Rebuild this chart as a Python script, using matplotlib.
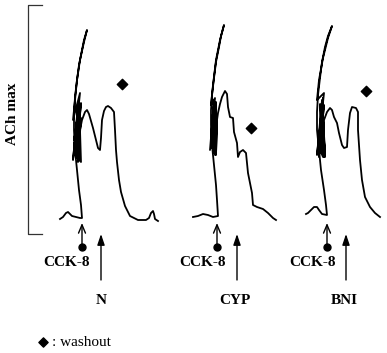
import matplotlib
matplotlib.use("Agg")
import matplotlib.pyplot as plt

# chart units: x = time (left to right), y = pen position (down is larger)
trace_n_x = [60, 63, 66, 68, 70, 72, 76, 80, 82,
             81, 79, 77, 75, 74, 74, 75, 77, 79, 82, 84, 87,
             84, 80, 77, 75, 73,
             80, 74, 79, 73, 78, 75, 80, 76, 81, 77, 79, 74, 80, 75, 78, 76,
             79, 77, 81, 78, 80, 79, 81, 80,
             82, 85, 87, 89, 93, 96, 98, 100, 101, 102, 104, 106, 108, 111, 114,
             115, 116, 117, 119, 121, 125, 130, 138, 146, 149, 151, 153, 154, 155, 158]
trace_n_y = [219, 217, 213, 212, 214, 216, 217, 218, 218,
             205, 190, 170, 150, 130, 115, 97, 80, 65, 50, 40, 30,
             42, 60, 80, 100, 120,
             93, 150, 100, 160, 105, 145, 110, 158, 103, 150, 115, 140, 108, 155, 120, 148,
             112, 152, 118, 162, 125, 160, 162, 130,
             120, 112, 110, 114, 128, 140, 148, 150, 138, 120, 111, 107, 106, 108, 112,
             130, 150, 162, 180, 192, 206, 216, 220, 220, 218, 213, 211, 214, 219, 221]

trace_cyp_x = [193, 198, 203, 208, 213, 218,
               217, 216, 214, 212, 211, 211, 212, 214, 216, 219, 221, 224,
               220, 216, 213, 211,
               215, 211, 214, 210, 216, 212, 215, 213, 216, 212, 214, 213, 215, 214,
               217, 214, 216, 215, 217, 216, 216, 217,
               218, 220, 222, 225, 227, 228, 230, 233, 234, 237, 238, 240, 243, 246,
               248, 252, 253, 257, 263, 268, 273, 276]
trace_cyp_y = [217, 216, 214, 215, 217, 216,
               200, 185, 165, 145, 125, 110, 95, 78, 62, 47, 36, 25,
               40, 60, 85, 105,
               98, 140, 100, 150, 105, 145, 110, 152, 102, 148, 112, 150, 106, 153,
               115, 150, 108, 155, 118, 155, 155, 120,
               113, 104, 97, 91, 94, 107, 117, 118, 132, 143, 157, 152, 150, 153,
               173, 193, 205, 207, 209, 213, 218, 220]

trace_bni_x = [306, 308, 311, 314, 317, 319, 322, 327,
               326, 324, 321, 319, 317, 317, 318, 320, 322, 325, 328, 332,
               328, 323, 319, 317,
               324, 318, 323, 317, 322, 319, 324, 320, 323, 321, 322, 320, 324, 321,
               323, 322, 325, 323, 325, 324,
               324, 327, 330, 332, 334, 337, 339, 342, 344, 347, 348, 350, 352, 356,
               358, 358, 360, 362, 365, 370, 375, 380]
trace_bni_y = [214, 213, 210, 207, 207, 210, 214, 215,
               205, 190, 170, 150, 130, 112, 95, 78, 62, 47, 36, 26,
               38, 58, 80, 100,
               93, 150, 98, 155, 100, 157, 105, 150, 157, 110, 152, 104, 155, 115,
               150, 108, 157, 120, 150, 157,
               120, 112, 108, 110, 117, 123, 133, 145, 148, 147, 130, 113, 107, 108,
               112, 130, 160, 180, 197, 207, 213, 217]

washout_x = [122, 251, 366]
washout_y = [84, 128, 91]

cck_x = [82, 217, 327]
drug_x = [101, 237, 346]
drug_labels = ["N", "CYP", "BNI"]

fig = plt.figure(figsize=(3.87, 3.53), dpi=100)
ax = fig.add_axes([0, 0, 1, 1])
ax.set_xlim(0, 387)
ax.set_ylim(353, 0)
ax.axis("off")

serif = "Liberation Serif"

# scale bar (ACh max)
ax.plot([42, 28, 28, 42], [5, 5, 234, 234], color="#333333", lw=0.9)
ax.text(13, 114, "ACh max", rotation=90, ha="center", va="center",
        fontsize=11, fontweight="bold", family=serif)

for tx, ty in [(trace_n_x, trace_n_y), (trace_cyp_x, trace_cyp_y),
               (trace_bni_x, trace_bni_y)]:
    ax.plot(tx, ty, color="black", lw=1.3, solid_joinstyle="round")

ax.scatter(washout_x, washout_y, marker="D", s=28, color="black")

for cx in cck_x:
    ax.annotate("", xy=(cx, 223), xytext=(cx, 247),
                arrowprops=dict(arrowstyle="->,head_length=0.6,head_width=0.25",
                                color="black", lw=1.0, shrinkA=0, shrinkB=0))
    ax.plot(cx, 247, "o", color="black", ms=5)
    ax.text(cx - 15, 263, "CCK-8", ha="center", va="center", fontsize=11,
            fontweight="bold", family=serif)

for dx, lab in zip(drug_x, drug_labels):
    ax.annotate("", xy=(dx, 234), xytext=(dx, 280),
                arrowprops=dict(arrowstyle="-|>,head_length=0.65,head_width=0.22",
                                color="black", lw=1.0, shrinkA=0, shrinkB=0))
    ax.text(dx - 2 if lab != "N" else dx, 300, lab, ha="center", va="center",
            fontsize=11, fontweight="bold", family=serif)

ax.scatter([43], [342], marker="D", s=22, color="black")
ax.text(52, 342, ": washout", ha="left", va="center", fontsize=11, family=serif)

fig.savefig("out.png", dpi=100)
